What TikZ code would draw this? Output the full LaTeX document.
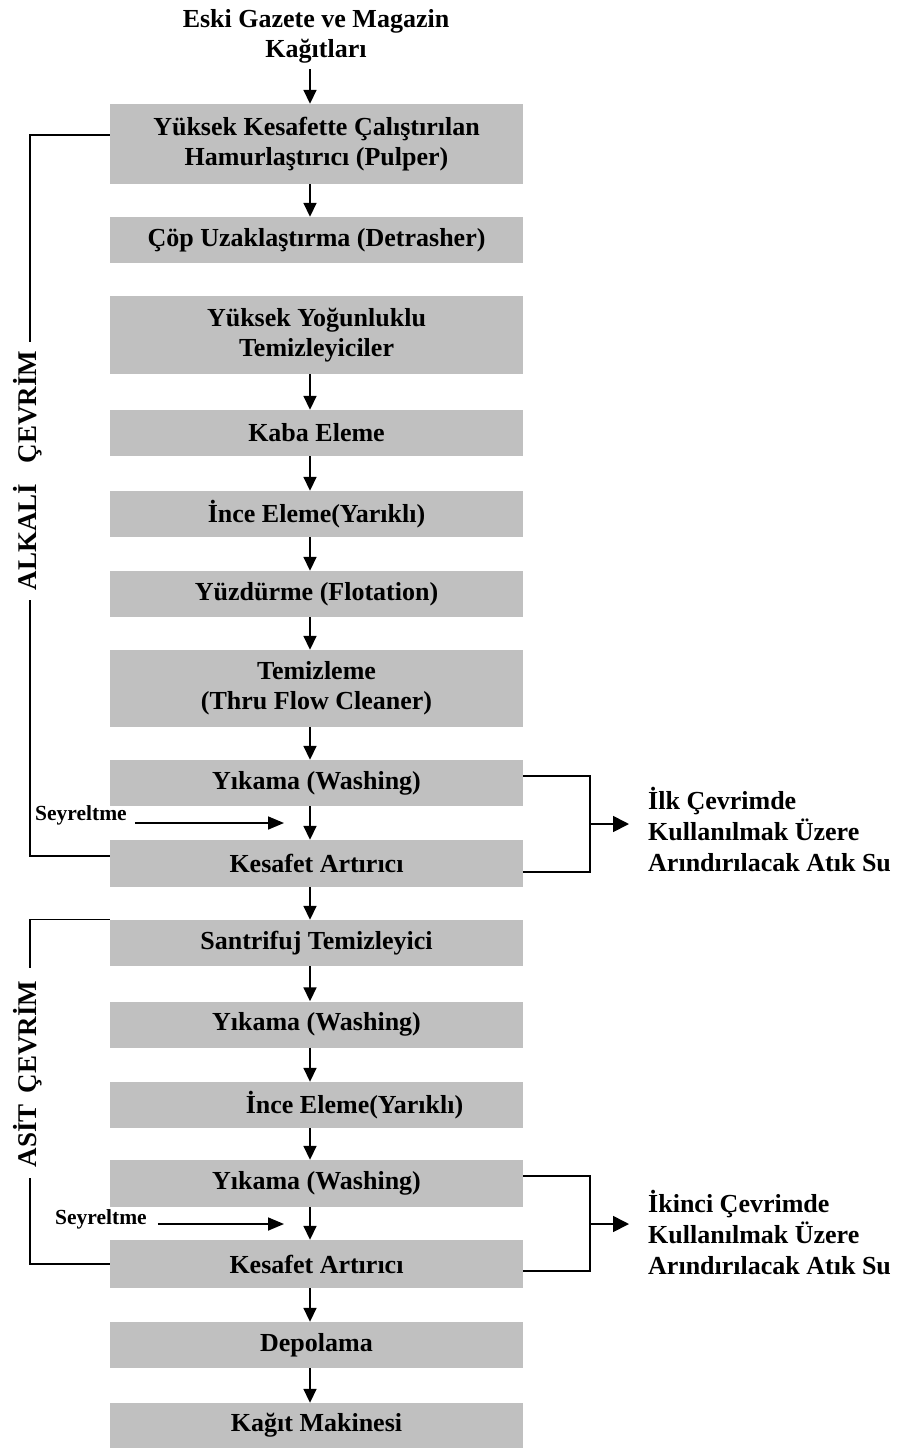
\documentclass[tikz,border=0pt]{standalone}
\usepackage{fontspec}
\setmainfont{Liberation Serif}
\usetikzlibrary{arrows.meta}
\definecolor{boxgray}{RGB}{192,192,192}
\tikzset{
  stage/.style={fill=boxgray, minimum width=413pt, inner sep=0pt, align=center,
    font=\bfseries\fontsize{26}{30}\selectfont},
  plain/.style={inner sep=0pt, align=center, font=\bfseries\fontsize{26}{30}\selectfont},
  note/.style={inner sep=0pt, align=left, anchor=west, font=\bfseries\fontsize{26}{31}\selectfont},
  small/.style={inner sep=0pt, font=\bfseries\fontsize{21.5}{25}\selectfont},
  cycle/.style={inner sep=0pt, rotate=90, font=\bfseries\fontsize{27}{30}\selectfont},
  flow/.style={line width=1.7pt, -{Triangle[length=14pt,width=13pt]}},
  feed/.style={line width=1.7pt, -{Triangle[length=16pt,width=13pt]}},
  outflow/.style={line width=1.7pt, -{Triangle[length=16pt,width=16pt]}},
  side/.style={line width=1.3pt}
}
\begin{document}
\begin{tikzpicture}[x=1pt,y=-1pt]
\useasboundingbox (0,0) rectangle (907,1449);

% main column axis
\coordinate (ax) at (310,0);

\node[plain] (src) at (316,36) {Eski Gazete ve Magazin\\Kağıtları};

\node[stage, minimum height=80pt] (b1)  at (316.5,144)   {Yüksek Kesafette Çalıştırılan\\Hamurlaştırıcı (Pulper)};
\node[stage, minimum height=46pt] (b2)  at (316.5,240)   {Çöp Uzaklaştırma (Detrasher)};
\node[stage, minimum height=78pt] (b3)  at (316.5,335)   {Yüksek Yoğunluklu\\Temizleyiciler};
\node[stage, minimum height=46pt] (b4)  at (316.5,433)   {Kaba Eleme};
\node[stage, minimum height=46pt] (b5)  at (316.5,514)   {İnce Eleme(Yarıklı)};
\node[stage, minimum height=46pt] (b6)  at (316.5,594)   {Yüzdürme (Flotation)};
\node[stage, minimum height=77pt] (b7)  at (316.5,688.5) {Temizleme\\(Thru Flow Cleaner)};
\node[stage, minimum height=46pt] (b8)  at (316.5,783)   {Yıkama (Washing)};
\node[stage, minimum height=47pt] (b9)  at (316.5,863.5) {Kesafet Artırıcı};
\node[stage, minimum height=46pt] (b10) at (316.5,943)   {Santrifuj Temizleyici};
\node[stage, minimum height=46pt] (b11) at (316.5,1024.5){Yıkama (Washing)};
\node[stage, minimum height=46pt] (b12) at (316.5,1105)  {\hspace*{76pt}İnce Eleme(Yarıklı)};
\node[stage, minimum height=47pt] (b13) at (316.5,1183.5){Yıkama (Washing)};
\node[stage, minimum height=48pt] (b14) at (316.5,1264)  {Kesafet Artırıcı};
\node[stage, minimum height=46pt] (b15) at (316.5,1345)  {Depolama};
\node[stage, minimum height=45pt] (b16) at (316.5,1425.5){Kağıt Makinesi};

% main flow
\draw[flow] ([yshift=-6pt]src.south -| ax) -- (b1.north -| ax);
\draw[flow] (b1.south -| ax) -- (b2.north -| ax);
\foreach \a/\b in {b3/b4,b4/b5,b5/b6,b6/b7,b7/b8,b8/b9,b9/b10,b10/b11,b11/b12,b12/b13,b13/b14,b14/b15,b15/b16}
  \draw[flow] (\a.south -| ax) -- (\b.north -| ax);

% dilution inputs
\node[small] (s1) at (81,815) {Seyreltme};
\coordinate (e1) at (284,823);
\draw[feed] ([xshift=8pt]s1.east |- e1) -- (e1);
\node[small] (s2) at (101,1219) {Seyreltme};
\coordinate (e2) at (284,1224);
\draw[feed] ([xshift=11pt]s2.east |- e2) -- (e2);

% waste water outputs
\coordinate (j1) at (590,824);
\coordinate (t1) at (629,824);
\draw[side] ([yshift=7pt]b8.east) -| (j1) |- ([yshift=-8.5pt]b9.east);
\draw[outflow] (j1) -- (t1);
\node[note] (o1) at (648,830) {İlk Çevrimde\\Kullanılmak Üzere\\Arındırılacak Atık Su};

\coordinate (j2) at (590,1224);
\coordinate (t2) at (629,1224);
\draw[side] ([yshift=7.5pt]b13.east) -| (j2) |- ([yshift=-7pt]b14.east);
\draw[outflow] (j2) -- (t2);
\node[note] (o2) at (648,1233) {İkinci Çevrimde\\Kullanılmak Üzere\\Arındırılacak Atık Su};

% alkaline loop
\node[cycle] (alk) at (28,470.5) {ALKALİ\hspace{0.75em}ÇEVRİM};
\coordinate (a1) at (30,342);
\coordinate (a2) at (30,600);
\draw[side] ([yshift=9pt]b1.west) -| (a1);
\draw[side] (a2) |- ([yshift=7.5pt]b9.west);

% acid loop
\node[cycle] (asit) at (28,1074) {ASİT\hspace{0.4em}ÇEVRİM};
\coordinate (c1) at (30,968);
\coordinate (c2) at (30,1178);
\draw[side] (b10.north west) -| (c1);
\draw[side] (c2) |- (b14.west);
\end{tikzpicture}
\end{document}
